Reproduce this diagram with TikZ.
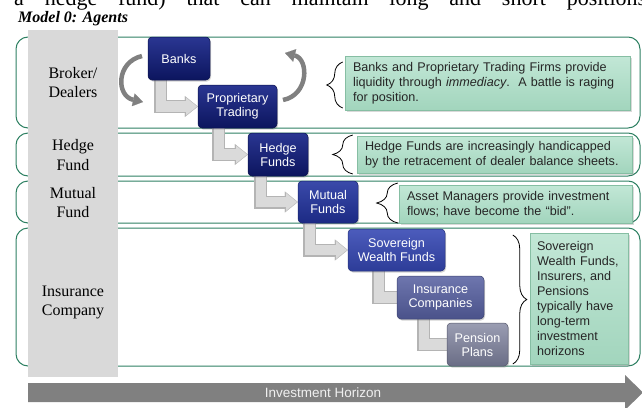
\documentclass[tikz,border=0pt]{standalone}
\usepackage{fontspec}
\setmainfont{Liberation Serif}
\newfontfamily\arial{Liberation Sans}
\usetikzlibrary{arrows.meta,shadows,decorations.pathreplacing}

\definecolor{bandgreen}{HTML}{2E8062}
\definecolor{colgray}{HTML}{D9D9D9}
\definecolor{elbowedge}{HTML}{B4B4B4}
\definecolor{elbowfill}{HTML}{DADADA}
\definecolor{curvegray}{HTML}{808080}
\definecolor{descA}{HTML}{C2E7D6}
\definecolor{descB}{HTML}{A2D5BD}
\definecolor{descedge}{HTML}{86BEA3}
\definecolor{desctext}{HTML}{262626}
\definecolor{navyTop}{HTML}{2A3692}
\definecolor{navyBot}{HTML}{0C155E}
\definecolor{mutTop}{HTML}{3A4AAA}
\definecolor{mutBot}{HTML}{1C2A84}
\definecolor{sovTop}{HTML}{4C5CBC}
\definecolor{sovBot}{HTML}{2D3C98}
\definecolor{insTop}{HTML}{6E76AE}
\definecolor{insBot}{HTML}{4A528A}
\definecolor{penTop}{HTML}{9A9DB2}
\definecolor{penBot}{HTML}{6A6D86}
\definecolor{horizon}{HTML}{808080}

\begin{document}
\begin{tikzpicture}[x=1pt,y=-1pt,
  band/.style={draw=bandgreen, line width=1pt, rounded corners=12pt},
  agent/.style={rounded corners=4pt, inner sep=1pt, align=center, text=white,
    font=\arial\fontsize{12.6}{14}\selectfont, line width=0.5pt,
    drop shadow={shadow xshift=1pt, shadow yshift=-1.5pt, opacity=0.35}},
  navybox/.style={agent, top color=navyTop, bottom color=navyBot, draw=navyBot!80!black},
  mutbox/.style={agent, top color=mutTop, bottom color=mutBot, draw=mutBot!80!black},
  sovbox/.style={agent, top color=sovTop, bottom color=sovBot, draw=sovBot!80!black},
  insbox/.style={agent, top color=insTop, bottom color=insBot, draw=insBot!80!black},
  penbox/.style={agent, top color=penTop, bottom color=penBot, draw=penBot!80!black},
  elbowout/.style={draw=elbowedge, line width=13pt, line join=miter},
  elbowin/.style={draw=elbowfill, line width=10.5pt, line join=miter},
  outtip/.style={-{Triangle[width=21pt,length=13pt,line width=0.1pt]}},
  intip/.style={-{Triangle[width=17.5pt,length=11pt,line width=0.1pt]}},
  swirl/.style={draw=curvegray, line width=4.5pt,
    -{Triangle[width=13pt,length=10pt,line width=0.1pt]}},
  desc/.style={draw=descedge, line width=0.5pt, top color=descA, bottom color=descB,
    drop shadow={shadow xshift=1.5pt, shadow yshift=-1.5pt, opacity=0.3},
    inner xsep=8pt, inner ysep=0pt, align=left, text=desctext,
    font=\arial\fontsize{12.6}{15}\selectfont},
  bracket/.style={draw=black, line width=0.8pt, decorate, decoration={brace, amplitude=#1}},
  rowlabel/.style={align=center, font=\fontsize{16}{19.5}\selectfont},
]
\useasboundingbox (0,0) rectangle (642,407);
\clip (0,0) rectangle (642,407);

% running text above the figure and its caption
\node[anchor=base west, inner sep=0pt] (runtext) at (14,5)
  {\fontsize{22}{26}\selectfont\makebox[632pt][s]{a hedge fund) that can maintain long and short positions}};
\node[anchor=base west, inner sep=0pt] (caption) at (18,22)
  {\fontsize{16}{18}\selectfont\bfseries\itshape Model 0: Agents};

% horizontal bands
\draw[band] (16,37) rectangle (640,128);
\draw[band] (16,133) rectangle (640,176);
\draw[band] (16,181) rectangle (640,223);
\draw[band] (16,228) rectangle (640,366);

% grey label column
\fill[colgray] (28,30) rectangle (118,377);
\node[rowlabel] (lbroker) at (73,82.5) {Broker/\\Dealers};
\node[rowlabel] (lhedge) at (73,155) {Hedge\\Fund};
\node[rowlabel] (lmutual) at (73,202.5) {Mutual\\Fund};
\node[rowlabel] (linsur) at (73,302.5) {Insurance\\Company};

% box centres
\coordinate (cbanks) at (179,58.5);
\coordinate (cprop) at (237.5,106.5);
\coordinate (chedge) at (278,154.5);
\coordinate (cmutual) at (328,202);
\coordinate (csov) at (396.5,250);
\coordinate (cins) at (440.5,297.5);
\coordinate (cpen) at (477.5,344.5);

% outlines of the agent boxes, used as connector anchors
\path (cbanks) node[minimum width=62pt, minimum height=43pt, inner sep=0pt] (banks) {};
\path (cprop) node[minimum width=79pt, minimum height=43pt, inner sep=0pt] (prop) {};
\path (chedge) node[minimum width=60pt, minimum height=43pt, inner sep=0pt] (hedge) {};
\path (cmutual) node[minimum width=60pt, minimum height=42pt, inner sep=0pt] (mutual) {};
\path (csov) node[minimum width=97pt, minimum height=42pt, inner sep=0pt] (sov) {};
\path (cins) node[minimum width=87pt, minimum height=43pt, inner sep=0pt] (ins) {};
\path (cpen) node[minimum width=61pt, minimum height=43pt, inner sep=0pt] (pen) {};

% elbow connectors between successive agents
\foreach \src/\dx/\dst in {banks/13/prop, prop/21/hedge, hedge/13/mutual, mutual/12/sov}{
  \draw[elbowout, outtip] ([xshift=\dx pt]\src.south west) |- (\dst.west);
  \draw[elbowin, intip] ([xshift=\dx pt, yshift=0.5pt]\src.south west) |- ([xshift=-0.8pt]\dst.west);
}
\foreach \src/\dx/\dst in {sov/31/ins, ins/27/pen}{
  \draw[elbowout] ([xshift=\dx pt]\src.south west) |- ([xshift=4pt]\dst.west);
  \draw[elbowin] ([xshift=\dx pt, yshift=0.5pt]\src.south west) |- ([xshift=4pt]\dst.west);
}

% circular arrows around the dealer pair
\coordinate (lsw) at (142,56);
\coordinate (lse) at (143,102);
\coordinate (rsw) at (283,100);
\coordinate (rse) at (285,53);
\draw[swirl] (lsw) .. controls (116,62) and (116,96) .. (lse);
\draw[swirl] (rsw) .. controls (309,95) and (309,59) .. (rse);

% agent boxes
\node[navybox, minimum width=62pt, minimum height=43pt] (banksbox) at (cbanks) {Banks};
\node[navybox, minimum width=79pt, minimum height=43pt] (propbox) at (cprop) {Proprietary\\Trading};
\node[navybox, minimum width=60pt, minimum height=43pt] (hedgebox) at (chedge) {Hedge\\Funds};
\node[mutbox, minimum width=60pt, minimum height=42pt] (mutualbox) at (cmutual) {Mutual\\Funds};
\node[sovbox, minimum width=97pt, minimum height=42pt] (sovbox) at (csov) {Sovereign\\Wealth Funds};
\node[insbox, minimum width=87pt, minimum height=43pt] (insbox) at (cins) {Insurance\\Companies};
\node[penbox, minimum width=61pt, minimum height=43pt] (penbox) at (cpen) {Pension\\Plans};

% commentary boxes
\node[desc, text width=269pt, minimum height=54pt] (d1) at (487.5,83)
  {Banks and Proprietary Trading Firms provide\\liquidity through \textit{immediacy}.\ \ A battle is raging\\for position.};
\node[desc, text width=259pt, minimum height=37pt] (d2) at (494.5,154.5)
  {Hedge Funds are increasingly handicapped\\by the retracement of dealer balance sheets.};
\node[desc, text width=217pt, minimum height=38pt] (d3) at (515.5,204)
  {Asset Managers provide investment\\flows; have become the “bid”.};
\node[desc, text width=84pt, inner xsep=7pt, minimum height=131pt] (d4) at (579,298.5)
  {Sovereign\\Wealth Funds,\\Insurers, and\\Pensions\\typically have\\long-term\\investment\\horizons};

% braces tying commentary to agents
\draw[bracket=16pt] ([xshift=-2pt]d1.west |- 0,108) -- ([xshift=-2pt]d1.west |- 0,62);
\draw[bracket=20pt] ([xshift=-4pt]d2.west |- 0,174) -- ([xshift=-4pt]d2.west |- 0,135);
\draw[bracket=21pt] ([xshift=-1pt]d3.west |- 0,223) -- ([xshift=-1pt]d3.west |- 0,183);
\draw[bracket=14pt] ([xshift=-17pt]d4.west |- 0,235) -- ([xshift=-17pt]d4.west |- 0,364);

% investment horizon arrow
\fill[horizon] (28,383) -- (625,383) -- (625,375) -- (643,392.5) -- (625,410)
  -- (625,402) -- (28,402) -- cycle;
\node[text=white!94!black, font=\arial\fontsize{13.5}{16}\selectfont] (horizonlabel) at (323,392.5) {Investment Horizon};
\end{tikzpicture}
\end{document}
